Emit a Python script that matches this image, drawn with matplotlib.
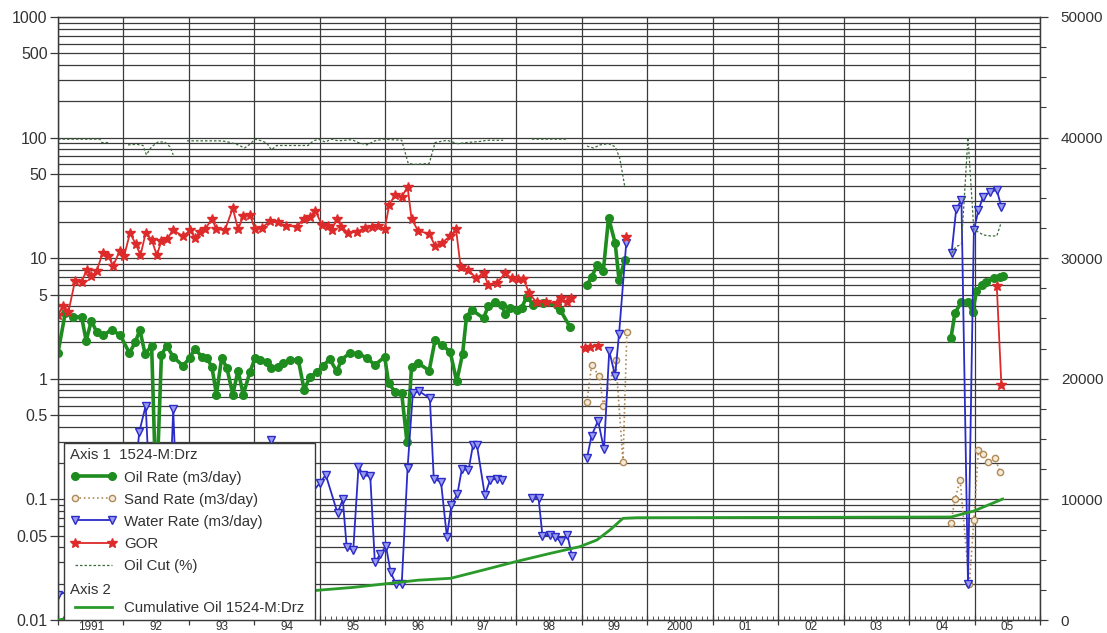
import numpy as np
import matplotlib
matplotlib.use('Agg')
import matplotlib.pyplot as plt
from matplotlib.patches import Rectangle
from matplotlib.ticker import FixedLocator, MultipleLocator, NullFormatter

plt.rcParams['font.family'] = ['Liberation Sans', 'DejaVu Sans']

nan = np.nan

# ---------------- data (decimal years) ----------------
oil_t = [1991.00, 1991.11, 1991.23, 1991.36, 1991.43, 1991.51, 1991.59, 1991.69, 1991.82, 1991.95,
         1992.09, 1992.18, 1992.25, 1992.33, 1992.43, 1992.50, 1992.58, 1992.66, 1992.76, 1992.91,
         1993.01, 1993.09, 1993.20, 1993.27, 1993.35, 1993.42, 1993.50, 1993.58, 1993.67, 1993.75, 1993.83, 1993.93,
         1994.01, 1994.09, 1994.19, 1994.26, 1994.36, 1994.44, 1994.54, 1994.67, 1994.76, 1994.85, 1994.95,
         1995.05, 1995.15, 1995.26, 1995.33, 1995.46, 1995.59, 1995.72, 1995.84, 1995.99,
         1996.05, 1996.15, 1996.25, 1996.33, 1996.40, 1996.50, 1996.67, 1996.76, 1996.86, 1996.99,
         1997.09, 1997.18, 1997.24, 1997.32, 1997.50, 1997.57, 1997.67, 1997.78, 1997.83, 1997.90,
         1998.01, 1998.08, 1998.16, 1998.26, 1998.41, 1998.62, 1998.67, 1998.82,
         nan,
         1999.08, 1999.15, 1999.24, 1999.33, 1999.41, 1999.51, 1999.57, 1999.66,
         nan,
         2004.64, 2004.70, 2004.80, 2004.90, 2004.97, 2005.03, 2005.11, 2005.18, 2005.29, 2005.39, 2005.44]
oil_v = [1.65, 3.5, 3.26, 3.26, 2.07, 3.03, 2.45, 2.3, 2.55, 2.3,
         1.64, 2.0, 2.55, 1.61, 1.88, 0.1, 1.58, 1.88, 1.52, 1.28,
         1.49, 1.77, 1.52, 1.49, 1.26, 0.74, 1.49, 1.23, 0.74, 1.17, 0.74, 1.13,
         1.49, 1.44, 1.39, 1.23, 1.26, 1.35, 1.42, 1.44, 0.81, 1.04, 1.13,
         1.28, 1.46, 1.15, 1.44, 1.64, 1.61, 1.49, 1.30, 1.52,
         0.92, 0.78, 0.76, 0.30, 1.26, 1.35, 1.17, 2.1, 1.91, 1.68,
         0.95, 1.61, 3.27, 3.73, 3.18, 3.98, 4.3, 4.1, 3.46, 3.85,
         3.73, 3.85, 4.8, 4.1, 4.25, 4.1, 3.73, 2.7,
         nan,
         6.0, 7.0, 8.8, 7.9, 21.6, 13.4, 6.6, 9.7,
         nan,
         2.18, 3.5, 4.35, 4.35, 3.55, 5.3, 6.0, 6.4, 6.8, 7.0, 7.1]

sand_t = [1999.08, 1999.15, 1999.27, 1999.33, 1999.52, 1999.63, 1999.69, nan,
          2004.64, 2004.70, 2004.78, 2004.92, 2004.99, 2005.06, 2005.13, 2005.21, 2005.31, 2005.39]
sand_v = [0.645, 1.3, 1.05, 0.6, 1.44, 0.205, 2.46, nan,
          0.064, 0.10, 0.145, 0.0197, 0.068, 0.257, 0.24, 0.205, 0.22, 0.17]

water_t = [1991.00, 1991.40, 1991.80, 1992.10, 1992.24, 1992.34, 1992.45, 1992.68, 1992.76, 1992.85,
           1993.30, 1993.80, 1994.18, 1994.26, 1994.34, 1994.60, 1994.80,
           1995.00, 1995.09, 1995.27, 1995.35, 1995.41, 1995.51, 1995.59, 1995.66, 1995.77, 1995.84, 1995.92,
           1996.01, 1996.08, 1996.16, 1996.25, 1996.34, 1996.42, 1996.52, 1996.68, 1996.74, 1996.85, 1996.94,
           1997.01, 1997.10, 1997.17, 1997.27, 1997.34, 1997.40, 1997.52, 1997.60, 1997.70, 1997.78,
           nan, 1998.24, 1998.34, 1998.40, 1998.51, 1998.59, 1998.68, 1998.78, 1998.85,
           nan, 1999.08, 1999.15, 1999.25, 1999.34, 1999.42, 1999.51, 1999.57, 1999.68,
           nan, 2004.65, 2004.72, 2004.80, 2004.90, 2004.99, 2005.06, 2005.13, 2005.24, 2005.34, 2005.41]
water_v = [0.016, 0.02, 0.03, 0.05, 0.36, 0.60, 0.03, 0.04, 0.56, 0.03,
           0.04, 0.03, 0.05, 0.31, 0.05, 0.04, 0.10,
           0.137, 0.16, 0.077, 0.10, 0.040, 0.038, 0.187, 0.16, 0.155, 0.030, 0.035,
           0.041, 0.025, 0.020, 0.0197, 0.183, 0.76, 0.785, 0.69, 0.148, 0.14, 0.049,
           0.09, 0.11, 0.18, 0.174, 0.284, 0.28, 0.108, 0.145, 0.148, 0.146,
           nan, 0.103, 0.103, 0.050, 0.051, 0.049, 0.045, 0.051, 0.034,
           nan, 0.22, 0.337, 0.45, 0.26, 1.7, 1.06, 2.36, 13.4,
           nan, 11.1, 25.6, 30.5, 0.02, 17.2, 25, 32.3, 35.5, 36.8, 26.6]

gor_t = [1991.00, 1991.08, 1991.16, 1991.26, 1991.36, 1991.44, 1991.51, 1991.59, 1991.68, 1991.77, 1991.84, 1991.94,
         1992.01, 1992.10, 1992.19, 1992.26, 1992.34, 1992.43, 1992.51, 1992.58, 1992.66, 1992.76, 1992.91,
         1993.02, 1993.09, 1993.17, 1993.25, 1993.35, 1993.42, 1993.55, 1993.67, 1993.75, 1993.83, 1993.93,
         1994.01, 1994.11, 1994.24, 1994.36, 1994.49, 1994.65, 1994.75, 1994.85, 1994.93,
         1995.03, 1995.13, 1995.18, 1995.26, 1995.33, 1995.43, 1995.56, 1995.69, 1995.79, 1995.89, 1995.99,
         1996.06, 1996.15, 1996.25, 1996.34, 1996.40, 1996.50, 1996.67, 1996.76, 1996.86, 1996.99,
         1997.08, 1997.15, 1997.27, 1997.39, 1997.50, 1997.57, 1997.70, 1997.83, 1997.93,
         1998.03, 1998.11, 1998.20, 1998.31, 1998.46, 1998.62, 1998.69, 1998.77, 1998.83,
         nan, 1999.05, 1999.13, 1999.25, nan, 1999.68, nan, 2005.34, 2005.41]
gor_v = [3.4, 4.0, 3.6, 6.5, 6.4, 8.0, 7.1, 7.8, 11.0, 10.4, 8.6, 11.4,
         10.4, 16.2, 13.0, 10.6, 16.2, 14.2, 10.6, 13.9, 14.3, 17.1, 15.2,
         17.1, 14.7, 16.6, 17.5, 21.2, 17.4, 17.1, 26, 17.4, 22.2, 23,
         17.4, 17.8, 20.3, 19.8, 18.5, 18.3, 21.2, 22, 24.8,
         18.9, 18.5, 17.1, 21.2, 18.3, 16.2, 16.6, 17.8, 18.3, 18.5, 17.4,
         27.8, 33.5, 32.3, 39, 21.2, 16.9, 15.9, 12.7, 13.4, 15.2,
         17.4, 8.5, 8.0, 6.8, 7.6, 6.0, 6.2, 7.5, 6.8,
         6.7, 6.7, 5.1, 4.3, 4.3, 4.25, 4.65, 4.3, 4.65,
         nan, 1.8, 1.85, 1.88, nan, 15.0, nan, 5.85, 0.89]

cut_t = [1991.00, 1991.64, 1991.67, 1991.79, nan, 1992.07, 1992.20, 1992.30, 1992.35, 1992.43, 1992.53, 1992.63, 1992.71, 1992.76, nan,
         1992.97, 1993.50, 1993.60, 1993.73, 1993.85, 1993.93, 1994.01, 1994.11, 1994.19, 1994.26, 1994.34, 1994.54, 1994.82, 1994.90, 1994.98,
         1995.08, 1995.18, 1995.28, 1995.38, 1995.49, 1995.59, 1995.72, 1995.84, 1995.97, 1996.25, 1996.35, 1996.45, 1996.67, 1996.76, 1996.94,
         1997.11, 1997.24, 1997.45, 1997.55, 1997.80, nan, 1998.24, 1998.79, nan,
         1999.08, 1999.18, 1999.28, 1999.41, 1999.51, 1999.58, 1999.66, nan,
         2004.65, 2004.72, 2004.80, 2004.90, 2004.99, 2005.06, 2005.13, 2005.24, 2005.34, 2005.41]
cut_v = [97, 97, 91, 91, nan, 87, 88, 86, 72, 84, 92, 92, 84, 72, nan,
         94, 94, 92, 88, 82, 88, 97, 94, 90, 79, 86, 86, 86, 94, 97,
         92, 97, 94, 95, 96, 91, 87, 94, 97, 95, 61, 60, 61, 91, 95,
         89, 91, 93, 95, 95, nan, 97, 97, nan,
         85, 82, 87, 89, 84, 68, 38.5, nan,
         11, 12.5, 13, 100, 17, 16.5, 15.6, 15.3, 15.3, 20]

cum_t = [1991.0, 1992.0, 1993.0, 1994.0, 1995.0, 1995.5, 1996.0, 1996.5, 1997.0, 1997.5,
         1998.0, 1998.5, 1998.97, 1999.23, 1999.43, 1999.63, 1999.84, 2004.64, 2004.99, 2005.43]
cum_v = [0, 950, 1550, 2000, 2480, 2700, 3000, 3300, 3460, 4150,
         4850, 5500, 6080, 6630, 7460, 8430, 8480, 8540, 9040, 10030]

year_labels = ['1991', '92', '93', '94', '95', '96', '97', '98', '99', '2000',
               '01', '02', '03', '04', '05']
left_ticks = [0.01, 0.05, 0.1, 0.5, 1, 5, 10, 50, 100, 500, 1000]
left_labels = ['0.01', '0.05', '0.1', '0.5', '1', '5', '10', '50', '100', '500', '1000']
right_ticks = [0, 10000, 20000, 30000, 40000, 50000]

# ---------------- figure ----------------
W, H = 1107, 633
fig = plt.figure(figsize=(W / 100, H / 100), dpi=100)
ax = fig.add_axes([58 / W, 13 / H, 982 / W, 603 / H])

grid_c = '#3a3a3a'
txt_c = '#333333'

ax.set_yscale('log')
ax.set_xlim(1991, 2006)
ax.set_ylim(0.01, 1000)

c_oil = '#1e8c1e'
c_sand = '#b08a58'
c_water = '#2b2bc8'
c_gor = '#dd2a2a'
c_cut = '#3d6b3d'
c_cum = '#2a9a2a'

h_oil, = ax.plot(oil_t, oil_v, color=c_oil, lw=2.6, marker='o', ms=5.5,
                 mfc=c_oil, mec=c_oil, zorder=3)
h_sand, = ax.plot(sand_t, sand_v, color=c_sand, lw=1.2, ls=':', marker='o', ms=4.5,
                  mfc='#f3ead8', mec=c_sand, zorder=4)
h_water, = ax.plot(water_t, water_v, color=c_water, lw=1.3, marker='v', ms=6,
                   mfc='#9a9af0', mec=c_water, zorder=5)
h_gor, = ax.plot(gor_t, gor_v, color=c_gor, lw=1.3, marker='*', ms=7,
                 mfc=c_gor, mec=c_gor, zorder=6)
h_cut, = ax.plot(cut_t, cut_v, color=c_cut, lw=0.9, ls=(0, (2.0, 1.6)), zorder=6)

# y axis (left)
ax.yaxis.set_major_locator(FixedLocator(left_ticks))
ax.set_yticklabels(left_labels)
minor_y = [m * 10.0 ** e for e in range(-2, 3) for m in (2, 3, 4, 6, 7, 8, 9)]
ax.yaxis.set_minor_locator(FixedLocator(minor_y))
ax.yaxis.set_minor_formatter(NullFormatter())
ax.tick_params(axis='y', which='major', length=6, width=0.9, color=grid_c,
               labelsize=11.5, labelcolor=txt_c, pad=1.5)
ax.tick_params(axis='y', which='minor', length=0)

# x axis
ax.set_xticks(np.arange(1991, 2007, 1))
ax.set_xticklabels([])
ax.xaxis.set_minor_locator(FixedLocator(np.arange(1991, 2006.001, 1 / 12)))
ax.tick_params(axis='x', which='major', length=7, width=0.9, color=grid_c, direction='inout')
ax.tick_params(axis='x', which='minor', length=3, width=0.6, color=grid_c, direction='in')
for i, lbl in enumerate(year_labels):
    ax.annotate(lbl, xy=(1991 + i + 0.5, 0), xycoords=ax.get_xaxis_transform(),
                xytext=(0, -10.5), textcoords='offset pixels',
                ha='center', va='baseline', fontsize=8.5, color=txt_c)

ax.grid(True, which='both', axis='y', color=grid_c, lw=0.9)
ax.grid(True, which='major', axis='x', color=grid_c, lw=0.9)
ax.set_axisbelow(True)
for s in ax.spines.values():
    s.set_color(grid_c)
    s.set_linewidth(0.9)

# right axis
ax2 = ax.twinx()
h_cum, = ax2.plot(cum_t, cum_v, color=c_cum, lw=2.0, zorder=3)
ax2.set_ylim(0, 50000)
ax2.set_yticks(right_ticks)
ax2.set_yticklabels([str(v) for v in right_ticks])
ax2.yaxis.set_minor_locator(MultipleLocator(2500))
ax2.tick_params(axis='y', which='major', length=6, width=0.9, color=grid_c,
                labelsize=11, labelcolor=txt_c, pad=9)
ax2.tick_params(axis='y', which='minor', length=4, width=0.8, color=grid_c)
for s in ax2.spines.values():
    s.set_color(grid_c)
    s.set_linewidth(0.9)

# legend box
box = Rectangle((0.0061, 0.0), 0.2556, 0.2935, transform=ax2.transAxes,
                facecolor='white', edgecolor=grid_c, lw=1.0, zorder=20)
ax2.add_patch(box)

leg_kw = dict(frameon=False, fontsize=10.8, title_fontsize=10.8, alignment='left',
              handlelength=3.1, handletextpad=0.5, borderaxespad=0.0, borderpad=0.0,
              numpoints=2, labelcolor=txt_c)
leg1 = ax2.legend([h_oil, h_sand, h_water, h_gor, h_cut],
                  ['Oil Rate (m3/day)', 'Sand Rate (m3/day)', 'Water Rate (m3/day)', 'GOR', 'Oil Cut (%)'],
                  title='Axis 1  1524-M:Drz', loc='upper left',
                  bbox_to_anchor=(0.0125, 0.2845), labelspacing=0.54, **leg_kw)
leg1.get_title().set_color(txt_c)
leg1.set_zorder(21)
ax2.add_artist(leg1)
leg2 = ax2.legend([h_cum], ['Cumulative Oil 1524-M:Drz'], title='Axis 2', loc='upper left',
                  bbox_to_anchor=(0.0125, 0.062), labelspacing=0.32, **leg_kw)
leg2.get_title().set_color(txt_c)
leg2.set_zorder(21)

fig.savefig('out.png', dpi=100)
